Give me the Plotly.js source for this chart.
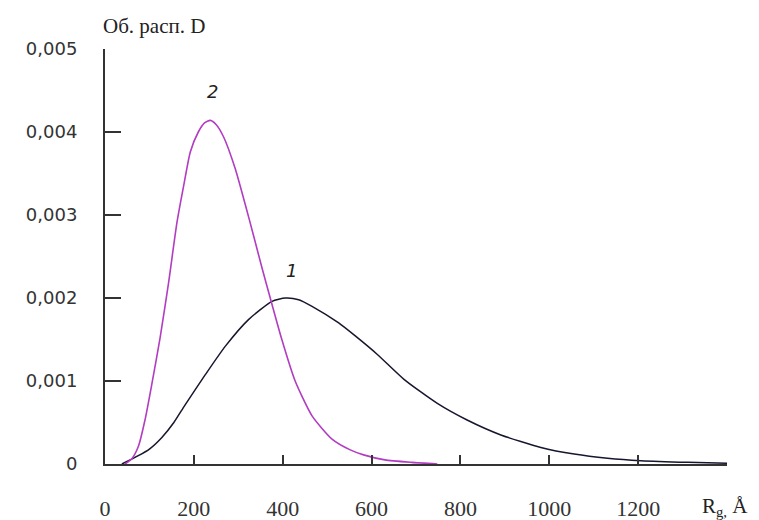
<!DOCTYPE html>
<html>
<head>
<meta charset="utf-8">
<script src="https://cdn.plot.ly/plotly-3.0.1.min.js"></script>
<style>html,body{margin:0;padding:0;background:#fff;}#chart{width:759px;height:520px;}</style>
</head>
<body>
<div id="chart"></div>
<script>
// Curve 1 (black)
const x1 = [38, 75, 100, 128, 155, 180, 225, 271, 323, 376, 406, 436, 466, 526, 564, 613, 673, 748, 815, 891, 981, 1056, 1131, 1206, 1312, 1400];
const y1 = [0, 0.0001, 0.00018, 0.00032, 0.0005, 0.00071, 0.00107, 0.00142, 0.00174, 0.00196, 0.002, 0.00198, 0.0019, 0.0017, 0.00154, 0.00132, 0.00102, 0.00073, 0.00053, 0.00035, 0.0002, 0.00012, 0.00007, 0.00004, 0.00002, 0.00001];
// Curve 2 (magenta)
const x2 = [45, 60, 75, 90, 105, 124, 143, 162, 177, 192, 210, 224, 237, 250, 267, 293, 316, 334, 353, 375, 398, 428, 466, 511, 552, 582, 630, 690, 748];
const y2 = [0, 0.00006, 0.00021, 0.00053, 0.00095, 0.00152, 0.00218, 0.00291, 0.00335, 0.00376, 0.004, 0.00411, 0.00414, 0.00409, 0.00394, 0.00356, 0.00312, 0.00276, 0.00237, 0.00194, 0.0015, 0.001, 0.00058, 0.0003, 0.00017, 0.00011, 0.00005, 0.00002, 0];

const xTickVals = [0, 200, 400, 600, 800, 1000, 1200];
const xTickText = ['0', '200', '400', '600', '800', '1000', '1200'];
const yTickVals = [0, 0.001, 0.002, 0.003, 0.004, 0.005];
const yTickText = ['0', '0,001', '0,002', '0,003', '0,004', '0,005'];

const curveLabels = ['1', '2'];
const curveLabelX = [419, 243];
const curveLabelY = [0.00233, 0.00449];

const yTitle = 'Об. расп. D';
const xTitle = 'R<sub>g,</sub> Å';

const traces = [
  {x: x1, y: y1, mode: 'lines', line: {color: '#16162e', width: 1.5, shape: 'spline', smoothing: 0.6}, hoverinfo: 'skip'},
  {x: x2, y: y2, mode: 'lines', line: {color: '#b23cc2', width: 1.6, shape: 'spline', smoothing: 0.6}, hoverinfo: 'skip'}
];

const annotations = curveLabels.map((t, i) => ({
  x: curveLabelX[i], y: curveLabelY[i], xref: 'x', yref: 'y', text: t, showarrow: false,
  font: {family: 'DejaVu Sans', size: 18, color: '#222', style: 'italic'}
}));
annotations.push({
  x: 0, y: 1, xref: 'paper', yref: 'paper', xanchor: 'left', yanchor: 'bottom', yshift: 9, xshift: -4,
  text: yTitle, showarrow: false, font: {family: 'Liberation Serif', size: 21, color: '#222'}
});
annotations.push({
  x: 1, y: 0, xref: 'paper', yref: 'paper', xanchor: 'center', yanchor: 'top', yshift: -28, xshift: -2,
  text: xTitle, showarrow: false, font: {family: 'Liberation Serif', size: 21, color: '#222'}
});

const layout = {
  width: 759, height: 520,
  margin: {l: 105, r: 32, t: 49, b: 56},
  paper_bgcolor: '#fff', plot_bgcolor: '#fff',
  showlegend: false,
  xaxis: {
    range: [0, 1400], showgrid: false, zeroline: false,
    showline: true, linecolor: '#333', linewidth: 2,
    ticks: 'inside', ticklen: 9, tickwidth: 2, tickcolor: '#333',
    tickvals: xTickVals, ticktext: xTickText, ticklabelstandoff: 24,
    tickfont: {family: 'Liberation Serif', size: 22, color: '#333'}
  },
  yaxis: {
    range: [0, 0.005], showgrid: false, zeroline: false,
    showline: true, linecolor: '#333', linewidth: 2,
    ticks: 'inside', ticklen: 16, tickwidth: 2, tickcolor: '#333',
    tickvals: yTickVals, ticktext: yTickText, ticklabelstandoff: 22,
    tickfont: {family: 'DejaVu Sans', size: 18, color: '#333'}
  },
  annotations: annotations
};

Plotly.newPlot('chart', traces, layout, {staticPlot: true, displayModeBar: false});
</script>
</body>
</html>
